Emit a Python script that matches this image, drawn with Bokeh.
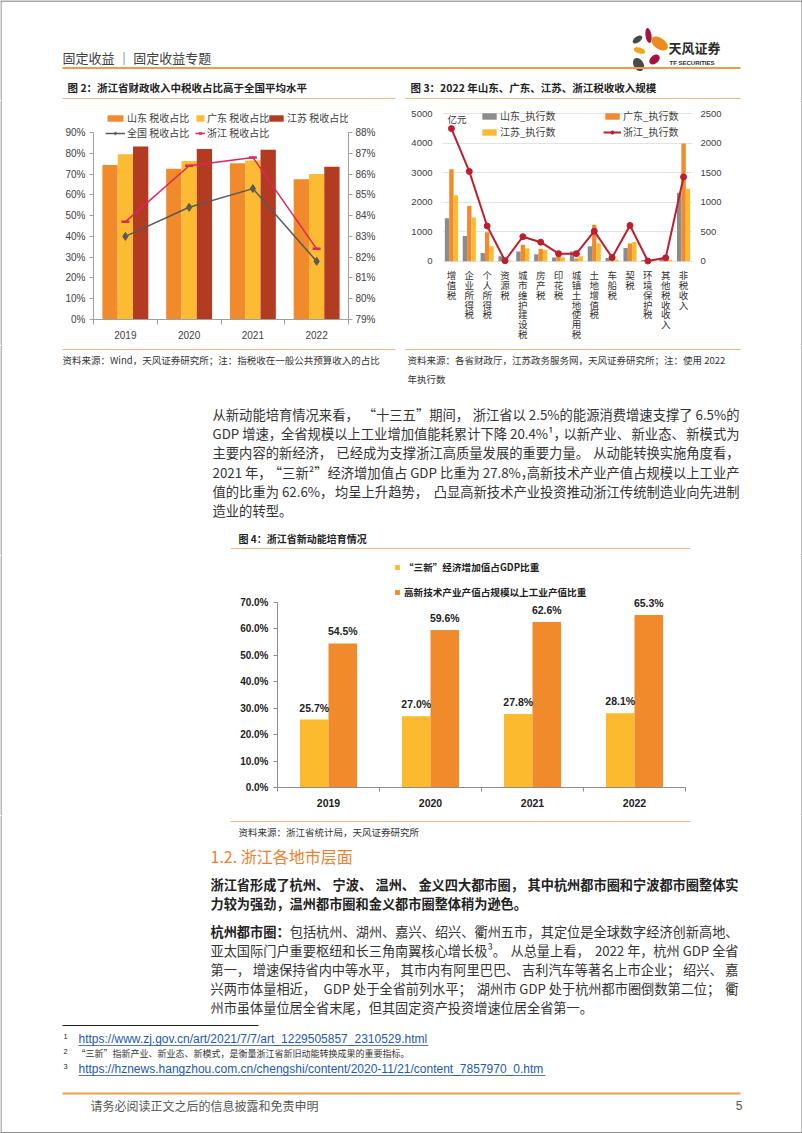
import re
import numpy as np
from bokeh.plotting import figure
from bokeh.models import (Range1d, LinearAxis, FixedTicker, PrintfTickFormatter, Legend,
                          LegendItem, ColumnDataSource, FactorRange, Label)
from bokeh.layouts import column, row
from bokeh.transform import dodge
from bokeh.core.properties import value
from bokeh.embed import file_html
from bokeh.resources import INLINE

CJK = "Noto Sans CJK SC"
ARIAL = "Liberation Sans"

# ---------------- data ----------------
years = ["2019", "2020", "2021", "2022"]
sd_tax_share = [74.3, 72.5, 75.2, 67.5]
gd_tax_share = [79.5, 76.3, 76.5, 70.0]
js_tax_share = [83.3, 82.0, 81.7, 73.5]
cn_tax_share = [83.0, 84.4, 85.3, 81.8]
zj_tax_share = [83.7, 86.4, 86.8, 82.4]

tax_items = ["增值税", "企业所得税", "个人所得税", "资源税", "城市维护建设税", "房产税", "印花税",
             "城镇土地使用税", "土地增值税", "车船税", "契税", "环境保护税", "其他税收收入", "非税收入"]
sd_2022 = [1450, 850, 275, 170, 330, 235, 125, 330, 510, 110, 445, 40, 65, 2320]
gd_2022 = [3110, 1870, 980, 35, 555, 420, 175, 95, 1235, 45, 595, 25, 75, 3985]
js_2022 = [2230, 1480, 510, 25, 440, 385, 125, 170, 600, 55, 650, 25, 45, 2445]
zj_2022 = [2245, 1520, 595, 8, 415, 322, 128, 128, 508, 62, 605, 3, 57, 1425]

new_econ_share = [25.7, 27.0, 27.8, 28.1]
hitech_share = [54.5, 59.6, 62.6, 65.3]

# colours
C2_SD, C2_GD, C2_JS, C2_CN, C2_ZJ = "#F08A2B", "#FCBB32", "#B23B22", "#595959", "#E0245E"
C3_SD, C3_GD, C3_JS, C3_ZJ = "#8C8C8C", "#F08A2C", "#FDBA30", "#BE1E2D"
C4_Y, C4_O = "#FCBA2E", "#F18A2A"
ORANGE_RULE = "#EE9B4E"
LIGHT_RULE = "#F4B482"
TXT = "#333333"
BOLD_TXT = "#222222"


def base_fig(w, h, **kw):
    p = figure(width=w, height=h, output_backend="svg", toolbar_location=None, **kw)
    p.outline_line_color = None
    p.background_fill_color = "white"
    p.border_fill_color = "white"
    p.frame_align = False
    return p


def text_fig(w, h, left_border=False, right_border=False, bottom_border=False, top_border=False):
    p = base_fig(w, h, x_range=Range1d(0, w), y_range=Range1d(h, 0), min_border=0,
                 x_axis_location=None, y_axis_location=None)
    p.xgrid.visible = False
    p.ygrid.visible = False
    if left_border:
        p.segment(x0=[0.5], y0=[0], x1=[0.5], y1=[h], line_color="#8A8A8A", line_width=1.2)
    if right_border:
        p.segment(x0=[w - 0.5], y0=[0], x1=[w - 0.5], y1=[h], line_color="#8A8A8A", line_width=1.2)
    if top_border:
        p.segment(x0=[0], y0=[0.6], x1=[w], y1=[0.6], line_color="#8A8A8A", line_width=1.5)
    if bottom_border:
        p.segment(x0=[0], y0=[h - 0.8], x1=[w], y1=[h - 0.8], line_color="#8A8A8A", line_width=1.5)
    return p


def put(p, x, y, s, size, color=TXT, bold=False, align="left", font=CJK):
    p.text(x=[x], y=[y], text=[s], text_font=value(font), text_font_size=f"{size}px",
           text_color=color, text_align=align, text_baseline="middle",
           text_font_style="bold" if bold else "normal")


# approximate advance widths (em) of the non-CJK glyphs of Noto Sans CJK
NARROW = {c: 0.5 for c in "0123456789"}
NARROW.update({".": 0.25, "%": 0.82, " ": 0.224, "G": 0.61, "D": 0.62, "P": 0.58,
               "¹": 0.33, "²": 0.33, "³": 0.33})


def est_width(s, size):
    return sum(NARROW.get(c, 1.0) for c in s) * size


def jline(p, y, segs, xl, xr, size, justify=True):
    """Lay out one line of body text; justified lines spread their slack over punctuation breaks."""
    chunks = []
    for text, bold in segs:
        if justify:
            for c in re.findall(r"[^，。、；：]+[，。、；：]?|[，。、；：]", text):
                chunks.append((c, bold))
        else:
            chunks.append((text, bold))
    widths = [est_width(c, size) for c, _ in chunks]
    n = len(chunks)
    gap = (xr - xl - sum(widths)) / (n - 1) if (justify and n > 1) else 0.0
    x = xl
    for i, ((c, bold), w) in enumerate(zip(chunks, widths)):
        col = BOLD_TXT if bold else TXT
        if justify and n > 1 and i == n - 1:
            put(p, xr, y, c, size, col, bold, "right")
        else:
            put(p, x, y, c, size, col, bold, "left")
        x += w + gap


def hline(p, x0, x1, y, color, width=1.0):
    p.segment(x0=[x0], y0=[y], x1=[x1], y1=[y], line_color=color, line_width=width)


def style_axis(ax, font=ARIAL, size="9.5px", color="#404040", bold=False, tick_out=4,
               standoff=4, line_color="#A0A0A0"):
    ax.major_label_text_font = font
    ax.major_label_text_font_size = size
    ax.major_label_text_color = color
    ax.major_label_text_font_style = "bold" if bold else "normal"
    ax.major_tick_out = tick_out
    ax.major_tick_in = 0
    ax.minor_tick_out = 0
    ax.minor_tick_in = 0
    ax.major_label_standoff = standoff
    ax.axis_line_color = line_color
    ax.major_tick_line_color = line_color
    ax.minor_tick_line_color = line_color


def make_legend(items, loc, font_size="10px", gw=20, gh=8, bold=False, orientation="horizontal",
                spacing=0, standoff=2, color="#404040"):
    return Legend(items=items, location=loc, orientation=orientation, glyph_width=gw, glyph_height=gh,
                  label_standoff=standoff, spacing=spacing, padding=0, margin=0, label_height=8,
                  border_line_color=None, background_fill_alpha=0,
                  label_text_font=CJK, label_text_font_size=font_size, label_text_color=color,
                  label_text_font_style="bold" if bold else "normal")


# ---------------- header (y 0-100) ----------------
top = text_fig(802, 100, left_border=True, right_border=True, top_border=True)
put(top, 62, 57, "固定收益 ｜ 固定收益专题", 13, "#404040")
# logo petals
top.ellipse(x=[637], y=[39], width=11, height=6, angle=0.6, fill_color="#4A4A4A", line_color=None)
top.ellipse(x=[648], y=[35], width=6, height=15, angle=0.15, fill_color="#A8123E", line_color=None)
top.ellipse(x=[659], y=[43], width=19, height=11, angle=-0.6, fill_color="#EF8A1F", line_color=None)
top.ellipse(x=[639], y=[50], width=12, height=6, angle=-0.3, fill_color="#F3A21C", line_color=None)
top.ellipse(x=[654], y=[59], width=12, height=8, angle=0.7, fill_color="#A8123E", line_color=None)
top.ellipse(x=[638], y=[64], width=10, height=14, angle=0.5, fill_color="#4A4A4A", line_color=None)
put(top, 668, 47, "天风证券", 13, "#2B2B2B", bold=True)
put(top, 669, 62, "TF SECURITIES", 6, "#2B2B2B", bold=True, font=ARIAL)
hline(top, 62, 740, 67.5, ORANGE_RULE, 2)
put(top, 67, 87, "图 2：浙江省财政收入中税收占比高于全国平均水平", 10.5, BOLD_TXT, bold=True)
put(top, 410, 87, "图 3：2022 年山东、广东、江苏、浙江税收收入规模", 10.5, BOLD_TXT, bold=True)
hline(top, 62, 395, 98, LIGHT_RULE, 1)
hline(top, 405, 740, 98, LIGHT_RULE, 1)

# ---------------- chart 2 ----------------
xpos = list(np.arange(len(years)) + 0.5)
p2 = base_fig(338, 245, x_range=Range1d(0, 4), y_range=Range1d(0, 101.55),
              min_border_left=31, min_border_right=52, min_border_top=8, min_border_bottom=26)
p2.extra_y_ranges = {"right": Range1d(79, 89.155)}
p2.xgrid.visible = False
p2.ygrid.visible = False
src2 = ColumnDataSource(dict(x=xpos, sd=sd_tax_share, gd=gd_tax_share, js=js_tax_share,
                             cn=cn_tax_share, zj=zj_tax_share))
r2_sd = p2.vbar(x=dodge("x", -0.24), top="sd", width=0.24, source=src2, fill_color=C2_SD, line_color=None)
r2_gd = p2.vbar(x=dodge("x", 0.0), top="gd", width=0.24, source=src2, fill_color=C2_GD, line_color=None)
r2_js = p2.vbar(x=dodge("x", 0.24), top="js", width=0.24, source=src2, fill_color=C2_JS, line_color=None)
r2_cnl = p2.line("x", "cn", source=src2, y_range_name="right", line_color=C2_CN, line_width=1.5)
r2_cnm = p2.scatter("x", "cn", source=src2, y_range_name="right", marker="diamond", size=8,
                    fill_color=C2_CN, line_color=C2_CN)
r2_zjl = p2.line("x", "zj", source=src2, y_range_name="right", line_color=C2_ZJ, line_width=1.5)
r2_zjm = p2.scatter("x", "zj", source=src2, y_range_name="right", marker="dash", size=8,
                    line_color=C2_ZJ, line_width=2.5)

lax = p2.yaxis[0]
lax.ticker = FixedTicker(ticks=list(range(0, 91, 10)))
lax.bounds = (0, 90)
lax.formatter = PrintfTickFormatter(format="%d%%")
style_axis(lax, size="10px", tick_out=4, standoff=4)
rax = LinearAxis(y_range_name="right", ticker=FixedTicker(ticks=list(range(79, 89))), bounds=(79, 88),
                 formatter=PrintfTickFormatter(format="%d%%"))
style_axis(rax, size="10px", tick_out=4, standoff=3)
p2.add_layout(rax, "right")
bax = p2.xaxis[0]
bax.ticker = FixedTicker(ticks=xpos, minor_ticks=[0, 1, 2, 3, 4])
bax.major_label_overrides = {float(x): y for x, y in zip(xpos, years)}
style_axis(bax, size="10px", tick_out=0, standoff=6)
bax.minor_tick_out = 5

p2.add_layout(make_legend([LegendItem(label="山东 税收占比", renderers=[r2_sd])], (12, 194), gw=20))
p2.add_layout(make_legend([LegendItem(label="广东 税收占比", renderers=[r2_gd])], (102, 194), gw=10))
p2.add_layout(make_legend([LegendItem(label="江苏 税收占比", renderers=[r2_js])], (174, 194), gw=18))
p2.add_layout(make_legend([LegendItem(label="全国 税收占比", renderers=[r2_cnl, r2_cnm])], (12, 179), gw=20))
p2.add_layout(make_legend([LegendItem(label="浙江 税收占比", renderers=[r2_zjl, r2_zjm])], (102, 179), gw=10))

# ---------------- chart 3 ----------------
p3 = base_fig(340, 245, x_range=FactorRange(*tax_items), y_range=Range1d(-2854, 5237),
              min_border_left=42, min_border_right=48, min_border_top=6, min_border_bottom=0,
              x_axis_location=None)
p3.extra_y_ranges = {"right": Range1d(-1427, 2618.5)}
src3 = ColumnDataSource(dict(item=tax_items, sd=sd_2022, gd=gd_2022, js=js_2022, zj=zj_2022))
t3 = FixedTicker(ticks=list(range(0, 5001, 1000)))
p3.yaxis[0].ticker = t3
p3.yaxis[0].bounds = (0, 5000)
style_axis(p3.yaxis[0], size="9.5px", tick_out=0, standoff=10, line_color=None)
p3.ygrid.ticker = t3
p3.ygrid.grid_line_color = "#E3E3E3"
p3.xgrid.visible = False
r3_sd = p3.vbar(x=dodge("item", -0.245, range=p3.x_range), top="sd", width=0.245, source=src3,
                fill_color=C3_SD, line_color=None)
r3_gd = p3.vbar(x=dodge("item", 0.0, range=p3.x_range), top="gd", width=0.245, source=src3,
                fill_color=C3_GD, line_color=None)
r3_js = p3.vbar(x=dodge("item", 0.245, range=p3.x_range), top="js", width=0.245, source=src3,
                fill_color=C3_JS, line_color=None)
r3_zjl = p3.line("item", "zj", source=src3, y_range_name="right", line_color=C3_ZJ, line_width=2)
r3_zjm = p3.scatter("item", "zj", source=src3, y_range_name="right", marker="circle", size=6,
                    fill_color=C3_ZJ, line_color=C3_ZJ)
rax3 = LinearAxis(y_range_name="right", ticker=FixedTicker(ticks=list(range(0, 2501, 500))),
                  bounds=(0, 2500))
style_axis(rax3, size="9.5px", tick_out=0, standoff=8, line_color=None)
p3.add_layout(rax3, "right")
# vertical (stacked) category labels: one text per character, stacked downwards
lab_item, lab_ch, lab_off = [], [], []
for name in tax_items:
    for k, ch in enumerate(name):
        lab_item.append(name)
        lab_ch.append(ch)
        lab_off.append(14 + 9.8 * k)
p3.text(x="item", y=0, text="ch", y_offset="off",
        source=ColumnDataSource(dict(item=lab_item, ch=lab_ch, off=lab_off)),
        text_baseline="middle", text_align="center",
        text_font=value(CJK), text_font_size="9.5px", text_color=TXT)
p3.add_layout(Label(x=5, y=4800, x_units="screen", text="亿元", text_font=CJK,
                    text_font_size="9.5px", text_color=TXT, text_baseline="middle"))
p3.add_layout(make_legend([LegendItem(label="山东_执行数", renderers=[r3_sd])], (38, 222), gw=18))
p3.add_layout(make_legend([LegendItem(label="广东_执行数", renderers=[r3_gd])], (161, 222), gw=18))
p3.add_layout(make_legend([LegendItem(label="江苏_执行数", renderers=[r3_js])], (38, 206), gw=18))
p3.add_layout(make_legend([LegendItem(label="浙江_执行数", renderers=[r3_zjl, r3_zjm])], (161, 206), gw=18))

# ---------------- middle text (y 345-555) ----------------
mid = text_fig(802, 210, left_border=True, right_border=True)
hline(mid, 62, 395, 4, LIGHT_RULE, 1)
hline(mid, 405, 740, 4, LIGHT_RULE, 1)
put(mid, 62, 14, "资料来源：Wind，天风证券研究所；注：指税收在一般公共预算收入的占比", 9.5)
put(mid, 407, 14, "资料来源：各省财政厅，江苏政务服务网，天风证券研究所；注：使用 2022", 9.5)
put(mid, 407, 33, "年执行数", 9.5)
para1 = [
    "从新动能培育情况来看，  “十三五”期间，浙江省以 2.5%的能源消费增速支撑了 6.5%的",
    "GDP 增速，全省规模以上工业增加值能耗累计下降 20.4%¹，以新产业、新业态、新模式为",
    "主要内容的新经济，已经成为支撑浙江高质量发展的重要力量。从动能转换实施角度看，",
    "2021 年，“三新²”经济增加值占 GDP 比重为 27.8%，高新技术产业产值占规模以上工业产",
    "值的比重为 62.6%，均呈上升趋势，凸显高新技术产业投资推动浙江传统制造业向先进制",
    "造业的转型。",
]
for i, line in enumerate(para1):
    jline(mid, 69 + 19.2 * i, [(line, False)], 212, 739, 13.3, justify=(i < len(para1) - 1))
put(mid, 238, 193, "图 4：浙江省新动能培育情况", 10, BOLD_TXT, bold=True)
hline(mid, 230, 690, 203, LIGHT_RULE, 1.2)

# ---------------- chart 4 ----------------
p4 = base_fig(460, 260, x_range=Range1d(0, 4), y_range=Range1d(0, 86.65),
              min_border_left=47, min_border_right=5, min_border_top=3, min_border_bottom=28)
p4.xgrid.visible = False
p4.ygrid.visible = False
src4 = ColumnDataSource(dict(x=xpos, a=new_econ_share, b=hitech_share,
                             alab=[f"{v:.1f}%" for v in new_econ_share],
                             blab=[f"{v:.1f}%" for v in hitech_share]))
r4_a = p4.vbar(x=dodge("x", -0.14), top="a", width=0.28, source=src4, fill_color=C4_Y, line_color=None)
r4_b = p4.vbar(x=dodge("x", 0.14), top="b", width=0.28, source=src4, fill_color=C4_O, line_color=None)
p4.text(x=dodge("x", -0.14), y="a", text="alab", source=src4, y_offset=-6, text_align="center",
        text_baseline="bottom", text_font=value(ARIAL), text_font_size="10.5px",
        text_font_style="bold", text_color=BOLD_TXT)
p4.text(x=dodge("x", 0.14), y="b", text="blab", source=src4, y_offset=-6, text_align="center",
        text_baseline="bottom", text_font=value(ARIAL), text_font_size="10.5px",
        text_font_style="bold", text_color=BOLD_TXT)
ax4 = p4.yaxis[0]
ax4.ticker = FixedTicker(ticks=list(range(0, 71, 10)))
ax4.bounds = (0, 70)
ax4.formatter = PrintfTickFormatter(format="%.1f%%")
style_axis(ax4, size="10px", bold=True, color=BOLD_TXT, tick_out=4, standoff=5, line_color="#8C8C8C")
bx4 = p4.xaxis[0]
bx4.ticker = FixedTicker(ticks=xpos, minor_ticks=[0, 1, 2, 3, 4])
bx4.major_label_overrides = {float(x): y for x, y in zip(xpos, years)}
style_axis(bx4, size="10.5px", bold=True, color=BOLD_TXT, tick_out=0, standoff=7, line_color="#8C8C8C")
bx4.minor_tick_out = 4
leg4 = make_legend([LegendItem(label="“三新”经济增加值占GDP比重", renderers=[r4_a]),
                    LegendItem(label="高新技术产业产值占规模以上工业产值比重", renderers=[r4_b])],
                   (117, 188), font_size="9.6px", gw=6, gh=6, bold=True, orientation="vertical",
                   spacing=11, standoff=4, color=BOLD_TXT)
p4.add_layout(leg4)

# ---------------- bottom text (y 815-1133) ----------------
bot = text_fig(802, 318, left_border=True, right_border=True, bottom_border=True)
hline(bot, 230, 690, 6, LIGHT_RULE, 1.2)
put(bot, 238, 16, "资料来源：浙江省统计局，天风证券研究所", 9.5)
put(bot, 210, 40, "1.2. 浙江各地市层面", 16, "#EE7F2D")
jline(bot, 69.3, [("浙江省形成了杭州、宁波、温州、金义四大都市圈，其中杭州都市圈和宁波都市圈整体实", True)],
      210, 738, 13.2)
jline(bot, 88.3, [("力较为强劲，温州都市圈和金义都市圈整体稍为逊色。", True)], 210, 738, 13.2, justify=False)
para3 = [
    [("杭州都市圈：", True), ("包括杭州、湖州、嘉兴、绍兴、衢州五市，其定位是全球数字经济创新高地、", False)],
    [("亚太国际门户重要枢纽和长三角南翼核心增长极³。从总量上看，2022 年，杭州 GDP 全省", False)],
    [("第一，增速保持省内中等水平，其市内有阿里巴巴、吉利汽车等著名上市企业；绍兴、嘉", False)],
    [("兴两市体量相近，GDP 处于全省前列水平；湖州市 GDP 处于杭州都市圈倒数第二位；衢", False)],
    [("州市虽体量位居全省末尾，但其固定资产投资增速位居全省第一。", False)],
]
for i, segs in enumerate(para3):
    jline(bot, 115.7 + 19 * i, segs, 210, 738, 13.2, justify=(i < len(para3) - 1))
hline(bot, 62, 258, 210, BOLD_TXT, 1)
put(bot, 63, 221, "1", 7.5, BOLD_TXT, font=ARIAL)
put(bot, 78, 223, "https://www.zj.gov.cn/art/2021/7/7/art_1229505857_2310529.html", 12, "#2458B3", font=ARIAL)
hline(bot, 78, 428, 230, "#2458B3", 0.8)
put(bot, 63, 236, "2", 7.5, BOLD_TXT, font=ARIAL)
put(bot, 76, 238, "“三新”指新产业、新业态、新模式，是衡量浙江省新旧动能转换成果的重要指标。", 9, TXT)
put(bot, 63, 251, "3", 7.5, BOLD_TXT, font=ARIAL)
put(bot, 78, 253, "https://hznews.hangzhou.com.cn/chengshi/content/2020-11/21/content_7857970_0.htm",
    12, "#2458B3", font=ARIAL)
hline(bot, 78, 545, 260, "#2458B3", 0.8)
hline(bot, 62, 740, 278, ORANGE_RULE, 2)
put(bot, 90, 290, "请务必阅读正文之后的信息披露和免责申明", 12, "#555555")
put(bot, 742, 290, "5", 12, "#555555", align="right", font=ARIAL)

# ---------------- layout ----------------
row2 = row(text_fig(62, 245, left_border=True), p2, p3, text_fig(62, 245, right_border=True))
row4 = row(text_fig(230, 260, left_border=True), p4, text_fig(112, 260, right_border=True))
page = column(top, row2, mid, row4, bot)

open("out.html", "w").write(file_html(page, INLINE))
